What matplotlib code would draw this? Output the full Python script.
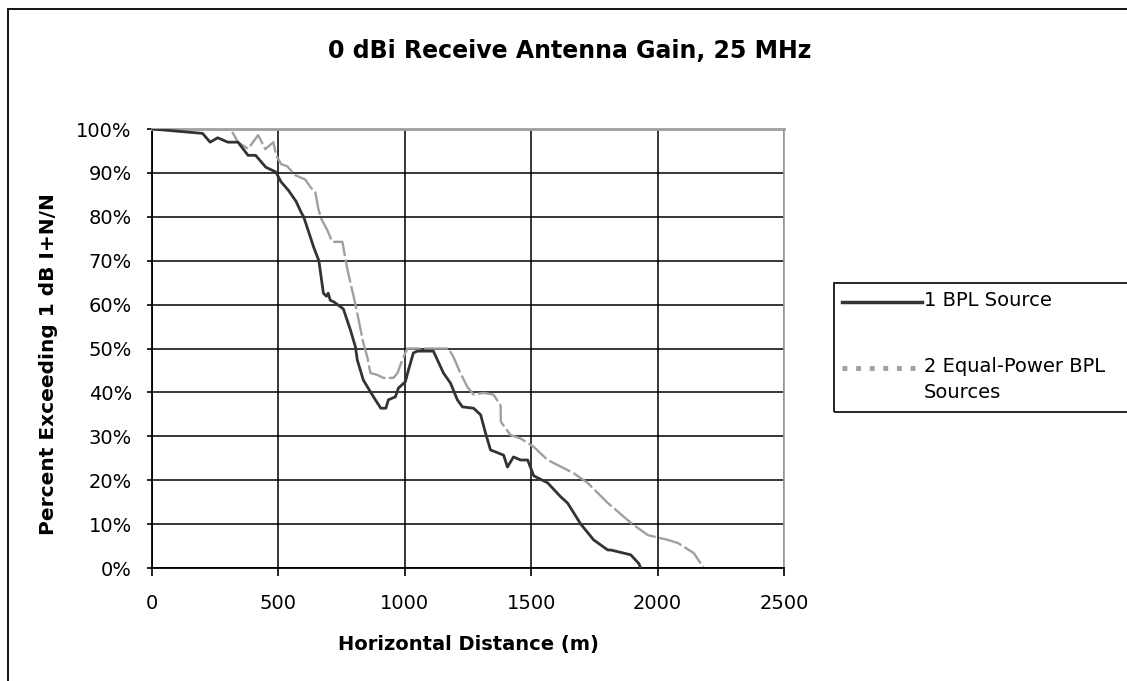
import matplotlib
matplotlib.use("Agg")
import matplotlib.pyplot as plt
from matplotlib.ticker import PercentFormatter
from matplotlib.patches import Rectangle
from matplotlib.lines import Line2D

plt.rcParams['font.family'] = ['DejaVu Sans']

# 1 BPL source (distance in m, percent exceeding)
dist_1src = [0, 100, 200, 230, 260, 300, 340, 380, 410, 450, 490, 510, 540, 570, 590, 600,
             640, 660, 678, 690, 697, 705, 720, 757, 785, 805, 812, 836, 876, 905, 925, 935,
             963, 975, 1002, 1014, 1034, 1050, 1113, 1129, 1153, 1181, 1208, 1228, 1272, 1300,
             1319, 1339, 1391, 1406, 1430, 1458, 1486, 1510, 1565, 1617, 1644, 1696, 1747,
             1803, 1815, 1894, 1926, 1933]
pct_1src = [100, 99.5, 99, 97, 98, 97, 97, 94, 94, 91.3, 90.2, 88, 86, 83.5, 81, 80,
            73, 70, 62.6, 61.9, 62.6, 61, 60.6, 59, 54.2, 50.3, 47.4, 42.8, 39, 36.4, 36.4, 38.3,
            39, 41, 42.4, 45, 49, 49.4, 49.4, 47.4, 44.4, 42.1, 38.3, 36.7, 36.4, 34.9,
            30.8, 26.9, 25.7, 23, 25.3, 24.6, 24.6, 21, 19.4, 16.2, 14.8, 10, 6.4,
            4.1, 4.1, 3, 1, 0]

# 2 equal-power BPL sources
dist_2src = [0, 200, 313, 340, 380, 420, 448, 480, 491, 511, 535, 566, 606, 626, 646, 658,
             670, 693, 713, 753, 773, 797, 812, 836, 852, 864, 891, 915, 955, 971, 990, 1010,
             1173, 1193, 1220, 1248, 1272, 1311, 1351, 1379, 1380, 1418, 1458, 1510, 1565,
             1668, 1723, 1803, 1894, 1961, 2040, 2080, 2143, 2183]
pct_2src = [100, 100, 99.8, 97, 95.5, 98.6, 95.4, 97, 94, 92, 91.5, 89.5, 88.5, 86.8, 85.6, 81.8,
            79.5, 77, 74.3, 74.3, 68, 62, 58, 51.2, 48, 44.4, 44, 43.3, 43.3, 44.4, 47.4, 50,
            50, 48, 44.4, 41.2, 39.5, 39.9, 39.5, 37, 33.3, 30.3, 29.5, 27.6, 24.6,
            21.6, 19.4, 14.8, 10.3, 7.5, 6.4, 5.7, 3.4, 0]

x_ticks = [0, 500, 1000, 1500, 2000, 2500]
y_ticks = [0, 10, 20, 30, 40, 50, 60, 70, 80, 90, 100]
labels = ['1 BPL Source', '2 Equal-Power BPL\nSources']

W, H = 1127, 681
fig = plt.figure(figsize=(W / 100, H / 100), dpi=100)

# outer chart frame (runs off the right and bottom edges)
fig.patches.append(Rectangle((8 / W, -0.05), 1.2, 1 - 9 / H + 0.05, transform=fig.transFigure,
                             fill=False, edgecolor='black', linewidth=1.3))

ax = fig.add_axes([152 / W, 1 - 568 / H, (784 - 152) / W, (568 - 129) / H])

l1, = ax.plot(dist_1src, pct_1src, color='#333333', linewidth=2.0, zorder=3)
l2, = ax.plot(dist_2src, pct_2src, color='#a0a0a0', linewidth=1.7, linestyle=(0, (10, 1.5)),
              zorder=2)

ax.set_xlim(0, 2500)
ax.set_ylim(0, 100)
ax.set_xticks(x_ticks)
ax.set_yticks(y_ticks)
ax.yaxis.set_major_formatter(PercentFormatter(decimals=0))
ax.grid(True, color='black', linewidth=1.1)
ax.set_axisbelow(True)

ax.spines['top'].set_color('#a0a0a0')
ax.spines['top'].set_linewidth(2)
ax.spines['right'].set_color('#a0a0a0')
ax.spines['right'].set_linewidth(1.3)
ax.spines['left'].set_linewidth(1.3)
ax.spines['bottom'].set_linewidth(1.3)

ax.tick_params(axis='x', length=5.5, width=1.2, pad=13, labelsize=14)
ax.tick_params(axis='y', length=3.5, width=1.2, pad=11, labelsize=14)

ax.set_xlabel('Horizontal Distance (m)', fontsize=14, fontweight='bold', labelpad=16)
ax.set_ylabel('Percent Exceeding 1 dB I+N/N', fontsize=14.5, fontweight='bold')
ax.yaxis.set_label_coords(-0.149, 0.465)
fig.text(570 / W, 1 - 51 / H, '0 dBi Receive Antenna Gain, 25 MHz', fontsize=17,
         fontweight='bold', ha='center', va='center')

# legend box, cut by the right edge like the original
fig.patches.append(Rectangle((834 / W, 1 - 412 / H), 0.4, (412 - 283) / H,
                             transform=fig.transFigure, fill=False, edgecolor='black',
                             linewidth=1.2))
for line, lab, y in zip([l1, l2], labels, [302, 368]):
    fig.add_artist(Line2D([842 / W, 922 / W], [1 - y / H, 1 - y / H], color=line.get_color(),
                          linewidth=2.5 if line is l1 else 3.5,
                          linestyle='-' if line is l1 else (0, (1, 1.8))))
    fig.text(924 / W, 1 - (y - 11) / H, lab, fontsize=14, ha='left', va='top', linespacing=1.45)

fig.savefig('out.png', dpi=100)
